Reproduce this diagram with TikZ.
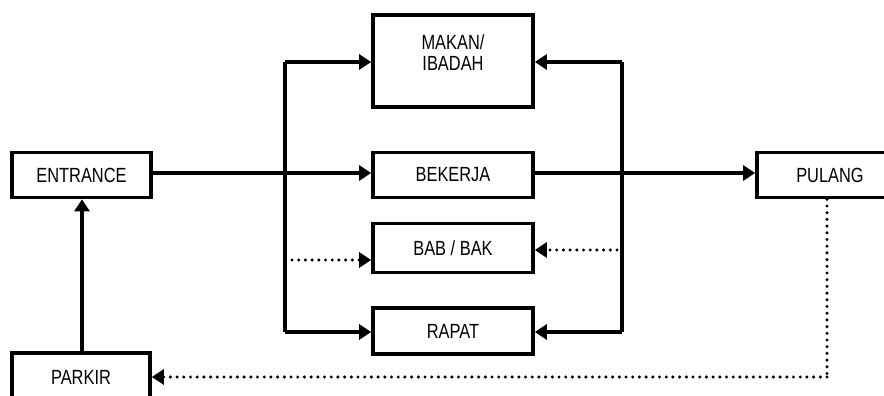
\documentclass[tikz,border=0pt]{standalone}
\usepackage{fontspec}
\setmainfont{Liberation Sans}[FakeStretch=0.8]
\usetikzlibrary{arrows.meta}
\begin{document}
\begin{tikzpicture}[x=1pt,y=-1pt,
  every node/.style={font=\fontsize{20.5}{21}\selectfont},
  stage/.style={draw, line width=3.6pt, rectangle, inner sep=0pt},
  flow/.style={line width=3.4pt, -{Triangle[length=12pt,width=15pt]}},
  link/.style={line width=3.4pt},
  dotflow/.style={line width=3.4pt, line cap=round, dash pattern=on 0pt off 6.7pt,
                  -{Triangle[length=12pt,width=15pt,line cap=butt]}},
  dotlink/.style={line width=3.4pt, line cap=round, dash pattern=on 0pt off 6.7pt}]
\useasboundingbox (0,0) rectangle (884,396);
\clip (0,0) rectangle (884,396);

% stages
\node[stage, minimum width=139pt, minimum height=45pt] (entrance) at (81.5,175) {ENTRANCE};
\node[stage, minimum width=138pt, minimum height=48pt] (parkir) at (81,377) {PARKIR};
\node[stage, minimum width=160pt, minimum height=92pt] (makan) at (453,61) {};
\node[align=center] (makantext) at (453,53) {MAKAN/\\IBADAH};
\node[stage, minimum width=160pt, minimum height=45pt] (bekerja) at (453,175) {BEKERJA};
\node[stage, minimum width=160pt, minimum height=49pt] (babbak) at (453,248) {BAB / BAK};
\node[stage, minimum width=160pt, minimum height=46pt] (rapat) at (453,331) {RAPAT};
\node[stage, minimum width=146pt, minimum height=45pt] (pulang) at (830,175) {PULANG};

% branch points
\coordinate (lt) at (285,62);
\coordinate (lb) at (285,332);
\coordinate (rt) at (622,62);
\coordinate (rb) at (622,332);
\coordinate (ldot) at (292,260);
\coordinate (rdot) at (617,250);
\coordinate (pcorner) at (827,377);

% main flow
\draw[flow] (entrance.east |- 0,173) -- (bekerja.west |- 0,173);
\draw[flow] (bekerja.east |- 0,173) -- (pulang.west |- 0,173);
\draw[flow] (parkir.north -| 82,0) -- (entrance.south -| 82,0);

% left and right branches
\draw[link] (lt) -- (lb);
\draw[link] (rt) -- (rb);
\draw[flow] (lt) -- (makan.west |- lt);
\draw[flow] (lb) -- (rapat.west |- lb);
\draw[flow] (rt) -- (makan.east |- rt);
\draw[flow] (rb) -- (rapat.east |- rb);

% occasional breaks
\draw[dotflow] (ldot) -- (babbak.west |- ldot);
\draw[dotflow] (rdot) -- (babbak.east |- rdot);

% return to parking
\draw[dotlink] (pulang.south -| pcorner) -- (pcorner);
\draw[dotflow] (pcorner) -- (parkir.east |- pcorner);
\end{tikzpicture}
\end{document}
